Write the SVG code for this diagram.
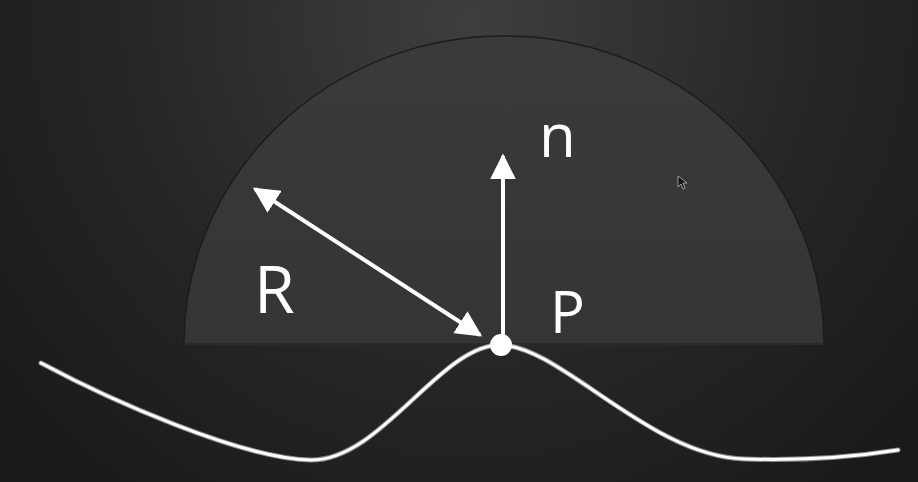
<svg xmlns="http://www.w3.org/2000/svg" width="918" height="482" viewBox="0 0 918 482">
<defs>
<radialGradient id="bg" cx="470" cy="20" r="620" gradientUnits="userSpaceOnUse">
<stop offset="0" stop-color="#3e3e3e"/>
<stop offset="0.55" stop-color="#262626"/>
<stop offset="1" stop-color="#191919"/>
</radialGradient>
<linearGradient id="dome" x1="0" y1="36" x2="0" y2="344" gradientUnits="userSpaceOnUse">
<stop offset="0" stop-color="#3a3a3a"/>
<stop offset="1" stop-color="#353535"/>
</linearGradient>
<marker id="ah" viewBox="0 0 10 10" refX="9" refY="5" markerWidth="6.5" markerHeight="6.5" markerUnits="strokeWidth" orient="auto-start-reverse">
<path d="M0,0 L10,5 L0,10 Z" fill="#ffffff"/>
</marker>
</defs>
<style>
.lbl{font-family:"Open Sans","Noto Sans","Liberation Sans",sans-serif;fill:#ffffff;}
.arr{stroke:#ffffff;stroke-width:4;fill:none;}
</style>
<rect width="918" height="482" fill="url(#bg)"/>
<g id="hemisphere">
<path d="M184,344 A320,308 0 0 1 824,344 Z" fill="url(#dome)" stroke="#1c1c1c" stroke-width="1.5"/>
<line x1="184" y1="344" x2="824" y2="344" stroke="#2a2a2a" stroke-width="2"/>
</g>
<g id="surface">
<path d="M41,363 C110,400 240,458 310,460 C380,462 440,345 500,345 C560,345 650,457 745,459 C810,461 860,456 898,450" fill="none" stroke="#8a8a8a" stroke-width="5" stroke-linecap="round"/>
<path d="M41,363 C110,400 240,458 310,460 C380,462 440,345 500,345 C560,345 650,457 745,459 C810,461 860,456 898,450" fill="none" stroke="#ffffff" stroke-width="3" stroke-linecap="round"/>
</g>
<g id="connectors">
<line class="arr" x1="503" y1="340" x2="503" y2="156" marker-end="url(#ah)"/>
<line class="arr" x1="255" y1="189" x2="480" y2="335" marker-start="url(#ah)" marker-end="url(#ah)"/>
</g>
<g id="point-P">
<circle cx="501" cy="345" r="11" fill="#ffffff"/>
</g>
<g id="labels">
<text class="lbl" x="539" y="157" font-size="60">n</text>
<text class="lbl" x="550" y="333" font-size="58">P</text>
<text class="lbl" x="254" y="313" font-size="66">R</text>
</g>
<g id="cursor">
<path d="M678,176 L678,187 L681,184 L683,189 L685,188 L683,183 L687,183 Z" fill="#111111" stroke="#bbbbbb" stroke-width="0.8"/>
</g>
</svg>
